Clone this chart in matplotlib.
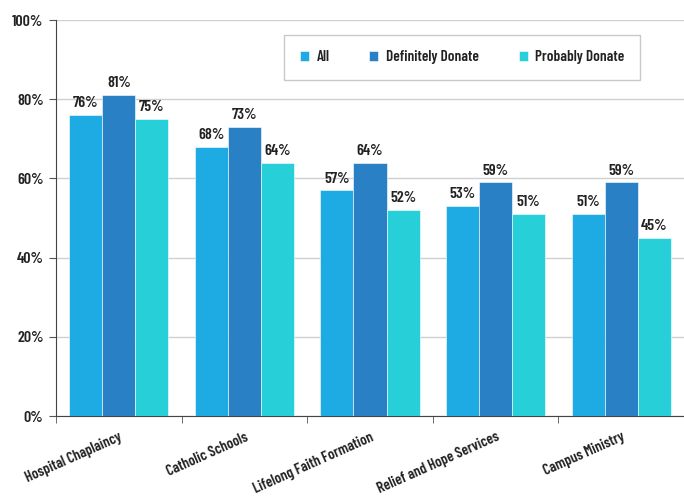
import numpy as np
import matplotlib.pyplot as plt

categories = ["Hospital Chaplaincy", "Catholic Schools", "Lifelong Faith Formation",
              "Relief and Hope Services", "Campus Ministry"]
series_names = ["All", "Definitely Donate", "Probably Donate"]
all_vals = [76, 68, 57, 53, 51]
definitely_vals = [81, 73, 64, 59, 59]
probably_vals = [75, 64, 52, 51, 45]
colors = ["#1eaae2", "#2980c4", "#27cfd9"]

plt.rcParams["font.family"] = ["Barlow Condensed", "DejaVu Sans"]
plt.rcParams["font.weight"] = 600

fig = plt.figure(figsize=(6.84, 4.97), dpi=100)
ax = fig.add_axes([56 / 684, 81 / 497, 628 / 684, 396 / 497])

x = np.arange(len(categories))
w = 0.263
for i, (name, vals) in enumerate(zip(series_names, [all_vals, definitely_vals, probably_vals])):
    bars = ax.bar(x + (i - 1) * w, vals, w, color=colors[i], label=name,
                  edgecolor="white", linewidth=0.4, zorder=3)
    for b, v in zip(bars, vals):
        ax.text(b.get_x() + b.get_width() / 2, v + 1.2, f"{v}%", ha="center", va="bottom",
                fontsize=11.5, color="#222222")

ax.set_xlim(-0.5, len(categories) - 0.5)
ax.set_ylim(0, 100)
ax.set_yticks(range(0, 101, 20))
ax.set_yticklabels([f"{v}%" for v in range(0, 101, 20)], fontsize=11.5, color="#222222")
ax.yaxis.grid(True, color="#d0d0d0", linewidth=1, zorder=0)
ax.tick_params(axis="y", length=5, color="#555555", pad=4)

ax.set_xticks(x)
ax.set_xticklabels(categories, rotation=24, ha="right", rotation_mode="anchor",
                   fontsize=10.8, color="#222222")
ax.tick_params(axis="x", length=0, pad=10)
ax.set_xticks(np.arange(len(categories)) - 0.5, minor=True)
ax.tick_params(axis="x", which="minor", length=5, color="#555555")

for s in ["top", "right"]:
    ax.spines[s].set_visible(False)
ax.spines["left"].set_color("#444444")
ax.spines["bottom"].set_color("#444444")

leg = ax.legend(loc="upper right", bbox_to_anchor=((640 - 56) / 628, (416 - 35) / 396),
                ncol=3, frameon=True, fancybox=False, prop={"weight": 600, "size": 11},
                handlelength=0.6, handleheight=0.6, handletextpad=0.5, columnspacing=2.6,
                borderpad=1.0, borderaxespad=0, labelcolor="#222222")
leg.get_frame().set_edgecolor("#bbbbbb")
leg.get_frame().set_linewidth(1)

fig.savefig("out.png", dpi=100)
